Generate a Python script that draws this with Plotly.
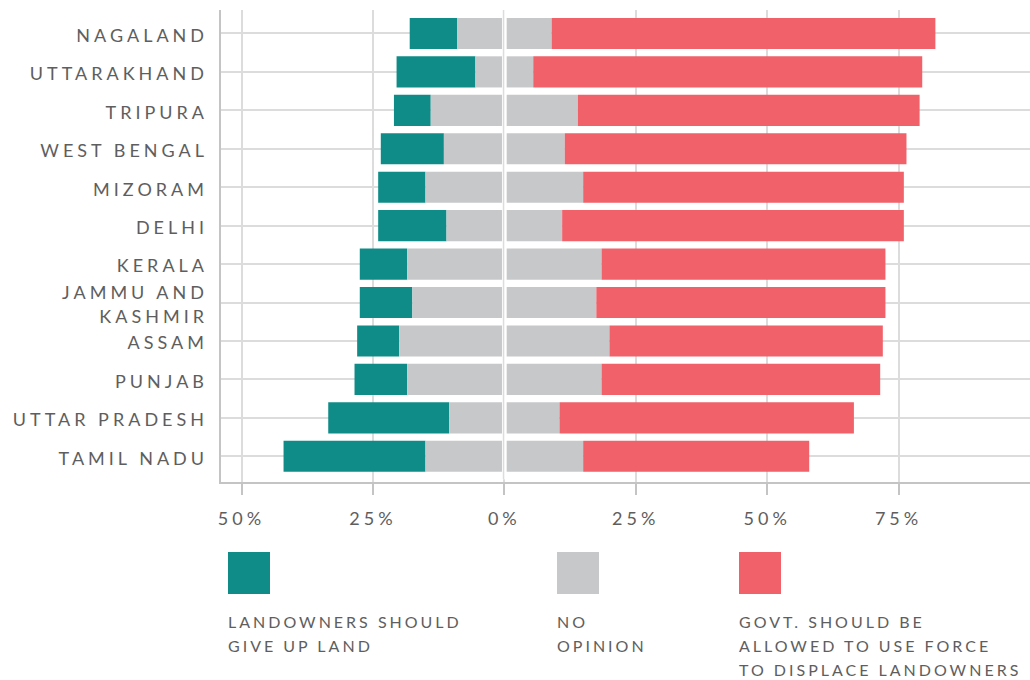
import plotly.graph_objects as go

# ---- data (top-to-bottom order as shown) ----
states = ["NAGALAND", "UTTARAKHAND", "TRIPURA", "WEST BENGAL", "MIZORAM", "DELHI",
          "KERALA", "JAMMU AND<br>KASHMIR", "ASSAM", "PUNJAB", "UTTAR PRADESH", "TAMIL NADU"]
give_up = [9, 15, 7, 12, 9, 13, 9, 10, 8, 10, 23, 27]
no_opinion = [18, 11, 28, 23, 30, 22, 37, 35, 40, 37, 21, 30]
use_force = [73, 74, 65, 65, 61, 65, 54, 55, 52, 53, 56, 43]

tick_vals = [-50, -25, 0, 25, 50, 75]
tick_text = ["50%", "25%", "0%", "25%", "50%", "75%"]

legend_labels = [["LANDOWNERS SHOULD", "GIVE UP LAND"],
                 ["NO", "OPINION"],
                 ["GOVT. SHOULD BE", "ALLOWED TO USE FORCE", "TO DISPLACE LANDOWNERS"]]

TEAL = "#0f8c88"
GRAY = "#c7c8ca"
RED = "#f0616a"
TXT = "#5e5e5e"
GRID = "#dcdcdc"
AXL = "#c4c4c4"
FONT = "Lato"

W, H = 1030, 680
ML, MR, MT, MB = 221, 0, 10, 198
PW, PH = W - ML - MR, H - MT - MB


def px2x(px):
    return (px - ML) / PW


def py2y(py):
    return (H - MB - py) / PH


half = [n / 2 for n in no_opinion]
order = states[::-1]
Y_RANGE = [-0.669, 11.61]
LABEL_SHIFT = 0.052  # labels sit ~2px below the bar centres

fig = go.Figure()
fig.add_trace(go.Bar(y=states, x=give_up, base=[-(h + t) for h, t in zip(half, give_up)],
                     orientation="h", marker=dict(color=TEAL, line=dict(width=0)),
                     width=0.81, name="Landowners should give up land", showlegend=False))
fig.add_trace(go.Bar(y=states, x=half, base=[-h for h in half],
                     orientation="h", marker=dict(color=GRAY, line=dict(width=0)),
                     width=0.81, name="No opinion", showlegend=False))
fig.add_trace(go.Bar(y=states, x=half, base=[0] * len(states),
                     orientation="h", marker=dict(color=GRAY, line=dict(width=0)),
                     width=0.81, name="No opinion", showlegend=False))
fig.add_trace(go.Bar(y=states, x=use_force, base=half,
                     orientation="h", marker=dict(color=RED, line=dict(width=0)),
                     width=0.81, name="Govt. should be allowed to use force", showlegend=False))
# invisible trace carrying the category labels axis
fig.add_trace(go.Scatter(y=states, x=[0] * len(states), yaxis="y2", mode="markers",
                         marker=dict(opacity=0), hoverinfo="skip", showlegend=False))

fig.update_layout(
    width=W, height=H, autosize=False,
    margin=dict(l=ML, r=MR, t=MT, b=MB, pad=0),
    paper_bgcolor="white", plot_bgcolor="white",
    barmode="overlay",
    font=dict(family=FONT, color=TXT),
    xaxis=dict(range=[-53.9, 100.0], tickvals=tick_vals, ticktext=tick_text,
               automargin=False,
               showgrid=True, gridcolor=GRID, gridwidth=2, zeroline=False,
               showline=True, linecolor=AXL, linewidth=2,
               ticks="outside", ticklen=11, tickwidth=2, tickcolor=AXL,
               ticklabelstandoff=8,
               tickfont=dict(family=FONT, size=18, color=TXT), fixedrange=True),
    yaxis=dict(type="category", categoryorder="array", categoryarray=order,
               automargin=False,
               range=Y_RANGE, showticklabels=False,
               showgrid=True, gridcolor=GRID, gridwidth=2, zeroline=False,
               showline=True, linecolor=AXL, linewidth=2, ticks="", fixedrange=True),
    yaxis2=dict(type="category", categoryorder="array", categoryarray=order,
                automargin=False,
                overlaying="y", side="left", anchor="x",
                range=[Y_RANGE[0] + LABEL_SHIFT, Y_RANGE[1] + LABEL_SHIFT],
                showgrid=False, zeroline=False, showline=False,
                ticks="", ticklabelstandoff=12,
                tickfont=dict(family=FONT, size=18, color=TXT), fixedrange=True),
    shapes=[
        dict(type="line", xref="x", yref="paper", x0=0, x1=0, y0=0.006, y1=1,
             line=dict(color="white", width=4.7), layer="above"),
        dict(type="line", xref="x", yref="paper", x0=-0.15, x1=-0.15, y0=0.006, y1=1,
             line=dict(color=GRID, width=1.5), layer="above"),
    ],
)

# legend: swatches and labels
sw_left = [228, 557, 739]
sw_colors = [TEAL, GRAY, RED]
for xl, col, lines in zip(sw_left, sw_colors, legend_labels):
    fig.add_shape(type="rect", xref="paper", yref="paper",
                  x0=px2x(xl), x1=px2x(xl + 42), y0=py2y(594), y1=py2y(552),
                  fillcolor=col, line=dict(width=0), layer="above")
    for i, t in enumerate(lines):
        fig.add_annotation(x=px2x(xl - 1), y=py2y(621 + 24 * i), xref="paper", yref="paper",
                           text=t, showarrow=False, xanchor="left", yanchor="middle",
                           align="left", borderpad=0,
                           font=dict(family=FONT, size=16, color=TXT))

post = """
document.body.style.margin = '0';
document.body.style.padding = '0';
var gd = document.getElementById('{plot_id}');
gd.querySelectorAll('.xtick text, .y2tick text').forEach(function(t){ t.style.letterSpacing = '4px'; });
gd.querySelectorAll('.annotation-text').forEach(function(t){ t.style.letterSpacing = '3px'; });
"""

fig.write_html("out.html", config={"displayModeBar": False}, post_script=post)
